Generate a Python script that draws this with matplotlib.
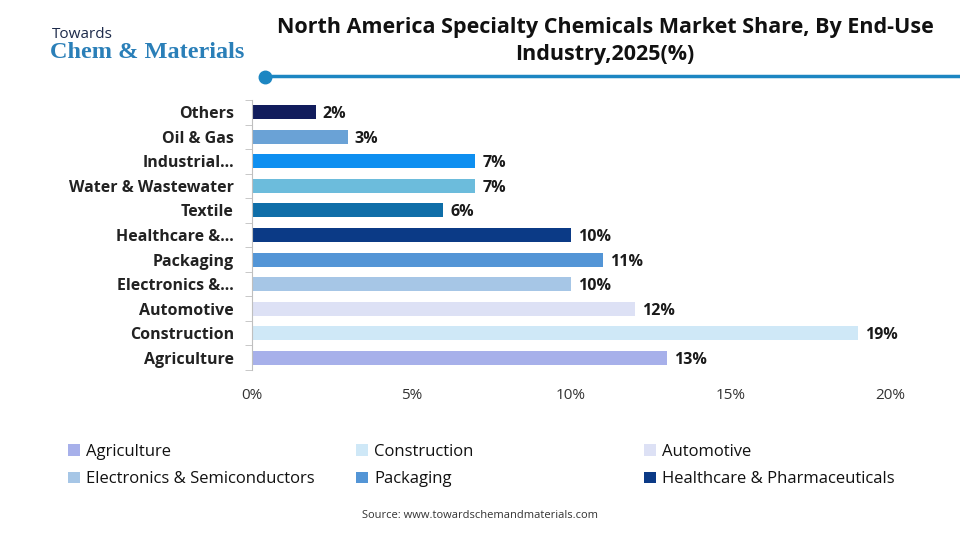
import matplotlib
matplotlib.use("Agg")
import matplotlib.pyplot as plt
from matplotlib.patches import Patch
import numpy as np

categories = ["Agriculture", "Construction", "Automotive", "Electronics &…", "Packaging",
              "Healthcare &…", "Textile", "Water & Wastewater", "Industrial…", "Oil & Gas", "Others"]
values = [13, 19, 12, 10, 11, 10, 6, 7, 7, 3, 2]
colors = ["#a7b0ea", "#cfe8f7", "#dde1f5", "#a6c6e6", "#5395d6", "#0b3a86",
          "#0f6ea8", "#6cbcdc", "#0e8ff0", "#6aa2d6", "#111c5c"]
legend_names = ["Agriculture", "Construction", "Automotive",
                "Electronics & Semiconductors", "Packaging", "Healthcare & Pharmaceuticals"]
legend_colors = ["#a7b0ea", "#cfe8f7", "#dde1f5", "#a6c6e6", "#5395d6", "#0b3a86"]
xticks = [0, 5, 10, 15, 20]

plt.rcParams['font.family'] = ['Open Sans', 'DejaVu Sans']

fig = plt.figure(figsize=(9.6, 5.4), dpi=100)
ax = fig.add_axes([252/960, 1-370/540, 638/960, 270/540])

y = np.arange(len(categories))
ax.barh(y, values, height=0.57, color=colors)
for yi, v in zip(y, values):
    ax.text(v + 0.22, yi - 0.08, f"{v}%", va='center', ha='left', fontsize=11.5,
            fontweight='bold', color='#1a1a1a')

ax.set_xlim(0, 20)
ax.set_ylim(-0.5, len(categories) - 0.5)
ax.set_yticks(y)
ax.set_yticklabels(categories, fontsize=11.5, fontweight='bold', color='#222222')
ax.set_yticks(np.arange(-0.5, len(categories)), minor=True)
ax.tick_params(axis='y', which='major', length=0, pad=13)
ax.tick_params(axis='y', which='minor', length=5, color='#bfbfbf', direction='out')
ax.set_xticks(xticks)
ax.set_xticklabels([f"{t}%" for t in xticks], fontsize=11, color='#333333')
ax.tick_params(axis='x', length=0, pad=13)
for s in ['top', 'right', 'bottom']:
    ax.spines[s].set_visible(False)
ax.spines['left'].set_color('#bfbfbf')

# Title
fig.text(605/960, 1-41/540, "North America Specialty Chemicals Market Share, By End-Use\nIndustry,2025(%)",
         ha='center', va='center', fontsize=15.5, fontweight='bold', color='#111111', linespacing=1.4)
fig.add_artist(plt.Line2D([265/960, 1.0], [1-76/540, 1-76/540], color='#1c86c2', lw=2.5))
fig.add_artist(plt.Line2D([265/960], [1-77/540], marker='o', markersize=9, color='#1c86c2'))

# Logo text
fig.text(52/960, 1-34/540, "Towards", fontsize=11, color='#1d2a4a', va='center')
fig.text(50/960, 1-52/540, "Chem & Materials", fontsize=17.5, color='#2a7fb8', va='center',
         family='Liberation Serif', fontweight='bold')

# Legend: three columns of two entries each
col_x = [68/960, 356/960, 644/960]
for c in range(3):
    idx = [c, c + 3]
    hs = [Patch(facecolor=legend_colors[i], label=legend_names[i]) for i in idx]
    leg = fig.legend(handles=hs, loc='upper left', bbox_to_anchor=(col_x[c], 1-444/540),
                     frameon=False, fontsize=12, handlelength=0.7, handleheight=0.7,
                     handletextpad=0.4, labelspacing=0.68, borderaxespad=0, borderpad=0)
    for t in leg.get_texts():
        t.set_color('#111111')

fig.text(480/960, 1-516/540, "Source: www.towardschemandmaterials.com", ha='center', va='center',
         fontsize=8, color='#333333')

fig.savefig("out.png", dpi=100)
